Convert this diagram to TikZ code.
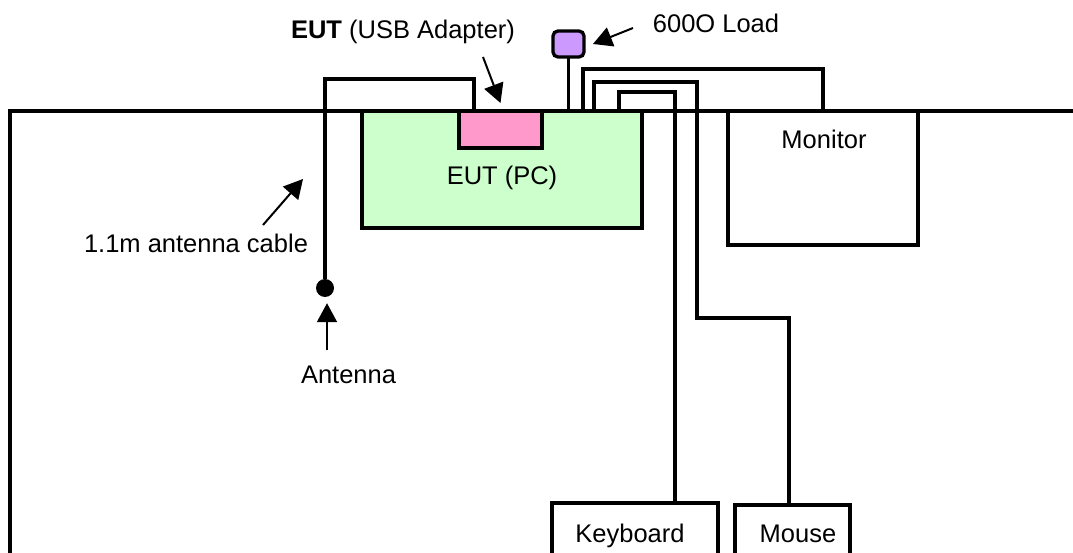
\documentclass[tikz,border=0pt]{standalone}
\usepackage{fontspec}
\setmainfont{Liberation Sans}
\usetikzlibrary{arrows.meta}

\definecolor{pcgreen}{HTML}{CCFFCC}
\definecolor{usbpink}{HTML}{FF99CC}
\definecolor{loadpurple}{HTML}{CC99FF}

\tikzset{
    cable/.style={line width=3.3pt},
    pointer/.style={line width=2pt, -{Triangle[length=19pt,width=20pt]}},
    unitbox/.style={draw, line width=3.3pt, inner sep=0pt, outer sep=0pt, anchor=north west},
    lbl/.style={font=\fontsize{25.5}{30}\selectfont, anchor=base, inner sep=0pt}
}

\begin{document}
\begin{tikzpicture}[x=1pt,y=-1pt]
    \useasboundingbox (0,0) rectangle (1073,553);

    % table edge
    \coordinate (tablecorner) at (10,111);
    \draw [line width=3.3pt] (10,553) -- (tablecorner) -- (1073,111);

    % units
    \node[unitbox, fill=pcgreen, minimum width=280pt, minimum height=117pt] (pc) at (362,111) {};
    \node[unitbox, fill=usbpink, minimum width=83pt, minimum height=37pt] (usb) at (459,111) {};
    \node[unitbox, fill=loadpurple, rounded corners=5pt, minimum width=31pt, minimum height=26pt] (load) at (553,31) {};
    \node[unitbox, minimum width=190pt, minimum height=134pt] (monitor) at (728,111) {};
    \node[unitbox, minimum width=166pt, minimum height=70pt] (kb) at (552,503) {};
    \node[unitbox, minimum width=115pt, minimum height=70pt] (mouse) at (735,505) {};
    \node[circle, fill=black, inner sep=0pt, minimum size=18pt] (ant) at (325,288) {};

    % cables
    \coordinate (usbport) at (474,111);
    \coordinate (vgaport) at (583,111);
    \coordinate (msport) at (594,111);
    \coordinate (kbport) at (619,111);
    \draw [cable] (usbport) -- ++(0,-32) -| (ant);
    \draw [cable] (load.south) -- (load.south |- pc.north);
    \draw [cable] (vgaport) -- ++(0,-42) -| (monitor.north);
    \draw [cable] (msport) -- ++(0,-29) -- ++(103,0) -- ++(0,236) -| ([xshift=54pt]mouse.north west);
    \draw [cable] (kbport) -- ++(0,-19) -| ([xshift=123pt]kb.north west);

    % pointers
    \coordinate (usbtail) at (483,57);
    \coordinate (loadtail) at (633,28);
    \coordinate (cabletail) at (263,225);
    \coordinate (cabletip) at (303,179);
    \coordinate (anttail) at (327,350);
    \draw [pointer] (usbtail) -- ([yshift=8pt]usb.north);
    \draw [pointer] (loadtail) -- ([xshift=9pt]load.east);
    \draw [pointer] (cabletail) -- (cabletip);
    \draw [pointer] (anttail) -- ([xshift=2pt,yshift=-6pt]ant.south);

    % labels
    \node[lbl] (usblabel) at (403,39) {\textbf{EUT} (USB Adapter)};
    \node[lbl] (loadlabel) at (716,33) {600O Load};
    \node[lbl] (cablelabel) at (196,253) {1.1m antenna cable};
    \node[lbl] (antlabel) at (348.5,383) {Antenna};
    \node[lbl] (monlabel) at (824,149) {Monitor};
    \node[lbl] (pclabel) at (502,185) {EUT (PC)};
    \node[lbl] (kblabel) at (630,542) {Keyboard};
    \node[lbl] (mouselabel) at (798,542) {Mouse};

\end{tikzpicture}
\end{document}
